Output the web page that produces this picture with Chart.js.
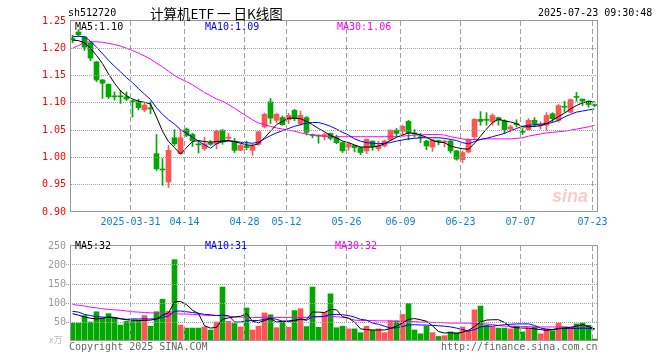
<!DOCTYPE html>
<html><head><meta charset="utf-8">
<script src="https://cdn.jsdelivr.net/npm/chart.js@4.4.1/dist/chart.umd.min.js"></script>
<style>
html,body{margin:0;padding:0;background:#fff;width:660px;height:360px;overflow:hidden;}
#wrap{position:relative;width:660px;height:360px;}
canvas{position:absolute;left:0;}
.t{position:absolute;font-family:"DejaVu Sans Mono",monospace;font-size:10px;line-height:12px;white-space:nowrap;}
</style></head><body>
<div id="wrap">
<canvas id="pc" width="660" height="235" style="top:0"></canvas>
<canvas id="vc" width="660" height="125" style="top:235px"></canvas>
<div class="t" style="left:68px;top:7px;color:#000;">sh512720</div>
<div class="t" style="left:150px;top:3px;font-family:'Noto Sans CJK SC',sans-serif;font-size:13.5px;line-height:20px;color:#000;">计算机ETF 一 日K线图</div>
<div class="t" style="left:538px;top:7px;color:#000;">2025-07-23 09:30:48</div>
<div class="t" style="left:75px;top:21px;color:#000;">MA5:1.10</div>
<div class="t" style="left:205px;top:21px;color:#0000ff;">MA10:1.09</div>
<div class="t" style="left:337px;top:21px;color:#ff00ff;">MA30:1.06</div>
<div class="t" style="left:75px;top:240px;color:#000;">MA5:32</div>
<div class="t" style="left:205px;top:240px;color:#0000ff;">MA10:31</div>
<div class="t" style="left:335px;top:240px;color:#ff00ff;">MA30:32</div>
<div class="t" style="left:49px;top:334px;color:#bbb;font-family:'Noto Sans CJK SC',sans-serif;font-size:9px;">x万</div>
<div class="t" style="left:69px;top:341px;color:#666;">Copyright 2025 SINA.COM</div>
<div class="t" style="left:441px;top:341px;color:#666;">http://finance.sina.com.cn</div>
<div class="t" style="left:552px;top:186px;color:rgba(225,110,110,0.35);font-family:'Liberation Sans',sans-serif;font-size:18px;line-height:20px;font-style:italic;font-weight:bold;">sina</div>
</div>
<script>
// ---- data ----
const tickIdx = [10,19,29,36,46,55,65,75,87];
const tickLabels = ['2025-03-31','04-14','04-28','05-12','05-26','06-09','06-23','07-07','07-23'];
const priceTicks = [0.90,0.95,1.00,1.05,1.10,1.15,1.20,1.25];
const volTicks = [0,50,100,150,200,250];

const open = [1.218,1.230,1.221,1.210,1.175,1.142,1.134,1.112,1.112,1.111,
1.103,1.102,1.087,1.090,1.007,0.978,0.955,1.036,1.007,1.052,
1.042,1.024,1.016,1.027,1.025,1.050,1.035,1.030,1.013,1.021,
1.013,1.024,1.056,1.102,1.068,1.073,1.069,1.086,1.062,1.073,
1.041,1.041,1.038,1.044,1.036,1.027,1.019,1.022,1.018,1.012,
1.030,1.016,1.021,1.032,1.050,1.048,1.066,1.044,1.037,1.030,
1.019,1.031,1.028,1.030,1.012,0.996,1.010,1.038,1.070,1.069,
1.065,1.073,1.067,1.052,1.061,1.047,1.051,1.068,1.058,1.059,
1.080,1.068,1.093,1.083,1.111,1.107,1.103,1.096];
const close = [1.216,1.225,1.202,1.182,1.142,1.136,1.111,1.111,1.111,1.107,
1.102,1.091,1.096,1.089,0.979,0.977,1.013,1.025,1.036,1.040,
1.031,1.023,1.025,1.024,1.048,1.028,1.037,1.013,1.022,1.018,
1.021,1.047,1.079,1.072,1.079,1.060,1.077,1.071,1.077,1.046,
1.040,1.039,1.042,1.035,1.027,1.012,1.024,1.018,1.009,1.033,
1.019,1.021,1.030,1.050,1.044,1.057,1.045,1.043,1.036,1.021,
1.032,1.029,1.030,1.012,0.997,1.009,1.033,1.070,1.066,1.068,
1.077,1.068,1.051,1.056,1.060,1.046,1.068,1.062,1.059,1.077,
1.071,1.095,1.092,1.106,1.110,1.103,1.097,1.095];
const high = [1.224,1.234,1.222,1.212,1.176,1.143,1.135,1.120,1.123,1.120,
1.105,1.107,1.100,1.102,1.042,0.998,1.022,1.051,1.050,1.054,
1.044,1.031,1.037,1.031,1.050,1.051,1.044,1.035,1.024,1.030,
1.024,1.048,1.081,1.108,1.081,1.076,1.081,1.088,1.085,1.075,
1.043,1.041,1.044,1.045,1.041,1.028,1.028,1.022,1.019,1.034,
1.030,1.030,1.032,1.051,1.053,1.059,1.068,1.051,1.044,1.032,
1.033,1.032,1.032,1.032,1.013,1.012,1.034,1.071,1.084,1.082,
1.080,1.074,1.069,1.059,1.069,1.053,1.071,1.073,1.065,1.082,
1.082,1.097,1.103,1.107,1.119,1.107,1.104,1.098];
const low = [1.210,1.222,1.196,1.177,1.139,1.108,1.108,1.105,1.099,1.104,
1.074,1.087,1.084,1.080,0.976,0.949,0.945,1.022,1.006,1.038,
1.020,1.008,1.013,1.022,1.016,1.024,1.032,1.009,1.012,1.014,
1.004,1.022,1.054,1.062,1.064,1.059,1.062,1.067,1.059,1.041,
1.036,1.026,1.032,1.032,1.025,1.009,1.013,1.010,1.005,1.007,
1.013,1.012,1.019,1.030,1.039,1.042,1.032,1.037,1.027,1.014,
1.011,1.023,1.019,1.008,0.995,0.990,1.008,1.032,1.059,1.059,
1.059,1.059,1.044,1.047,1.056,1.042,1.050,1.056,1.052,1.050,
1.065,1.065,1.083,1.082,1.103,1.095,1.092,1.093];
const ma5 = [1.215,1.214,1.210,1.200,1.187,1.172,1.153,1.136,1.122,1.113,
1.107,1.103,1.101,1.098,1.074,1.048,1.029,1.018,1.006,1.018,
1.029,1.031,1.029,1.028,1.029,1.030,1.031,1.029,1.026,1.023,
1.022,1.025,1.036,1.048,1.060,1.066,1.072,1.072,1.071,1.066,
1.060,1.053,1.047,1.040,1.036,1.030,1.027,1.023,1.019,1.019,
1.019,1.021,1.025,1.031,1.037,1.041,1.045,1.044,1.041,1.037,
1.031,1.028,1.027,1.021,1.018,1.016,1.015,1.026,1.039,1.052,
1.064,1.070,1.067,1.065,1.062,1.056,1.056,1.057,1.058,1.062,
1.068,1.075,1.081,1.089,1.095,1.100,1.102,1.102];
const ma10 = [1.221,1.222,1.221,1.213,1.202,1.190,1.178,1.167,1.157,1.146,
1.137,1.126,1.116,1.106,1.091,1.079,1.069,1.061,1.051,1.044,
1.037,1.030,1.023,1.017,1.025,1.029,1.030,1.029,1.028,1.027,
1.026,1.028,1.034,1.040,1.045,1.049,1.053,1.057,1.060,1.063,
1.064,1.064,1.061,1.057,1.052,1.046,1.041,1.034,1.030,1.027,
1.026,1.025,1.026,1.027,1.030,1.032,1.034,1.035,1.036,1.036,
1.036,1.036,1.035,1.033,1.031,1.027,1.025,1.029,1.033,1.035,
1.038,1.041,1.044,1.049,1.053,1.057,1.059,1.060,1.061,1.062,
1.064,1.068,1.074,1.079,1.083,1.085,1.087,1.089];
const ma30 = [1.200,1.205,1.211,1.212,1.212,1.211,1.209,1.207,1.204,1.200,
1.196,1.191,1.186,1.180,1.173,1.166,1.158,1.150,1.144,1.139,
1.133,1.126,1.119,1.113,1.107,1.103,1.097,1.090,1.083,1.076,
1.069,1.063,1.060,1.057,1.054,1.052,1.050,1.048,1.045,1.043,
1.041,1.040,1.039,1.038,1.038,1.038,1.038,1.038,1.038,1.038,
1.038,1.038,1.038,1.038,1.038,1.039,1.040,1.041,1.041,1.042,
1.042,1.042,1.041,1.038,1.036,1.034,1.032,1.033,1.033,1.034,
1.034,1.034,1.034,1.034,1.035,1.036,1.039,1.041,1.043,1.045,
1.046,1.047,1.048,1.050,1.052,1.054,1.056,1.059];
const vol = [47,47,67,50,77,60,72,60,42,52,
54,55,67,39,77,110,78,214,42,34,
34,34,37,29,50,142,52,46,37,87,
29,39,74,69,35,49,36,80,85,38,
142,36,75,124,35,39,32,32,22,39,
28,32,22,53,53,70,99,29,19,39,
22,12,14,24,22,37,29,82,92,42,
37,34,34,32,39,24,34,37,19,32,
27,47,37,33,45,47,41,5];
const vm5 = [72,68,63,60,58,60,63,62,59,56,
55,54,54,55,58,68,74,103,104,96,
81,72,40,34,36,57,61,63,65,72,
52,48,54,59,50,52,53,54,57,57,
76,76,75,83,82,64,60,50,32,30,
29,29,29,33,39,47,57,59,56,52,
40,25,21,22,20,23,28,38,50,55,
56,56,49,37,35,34,34,32,30,28,
30,33,34,36,39,43,38,32];
const vm10 = [78,76,70,67,64,63,62,61,58,57,
58,58,58,58,58,62,66,78,79,77,
75,73,70,69,67,68,67,50,50,53,
54,54,57,60,57,52,51,54,58,54,
64,64,65,70,70,69,67,63,57,55,
47,44,39,34,35,38,42,43,42,42,
41,40,39,37,34,30,26,30,37,39,
39,41,43,44,45,45,45,41,34,31,
30,32,33,33,33,34,33,31];
const vm30 = [96,94,92,89,87,85,83,82,81,79,
77,76,75,74,74,73,72,72,71,71,
70,69,68,67,67,66,65,64,63,62,
62,62,62,62,62,62,62,62,62,62,
63,64,64,65,64,62,60,55,54,54,
54,53,53,53,52,52,51,51,50,50,
49,49,48,47,47,47,47,46,45,45,
43,41,39,39,39,38,38,37,37,37,
37,37,37,36,35,35,34,32];

// ---- rendering ----
const UP = '#ff5555', DOWN = '#00a800';
const MONO = 'DejaVu Sans Mono';
const idx = open.map((_, i) => i);
const colors = idx.map(i => close[i] >= open[i] ? UP : DOWN);
const pts = arr => arr.map((v, i) => ({x: i, y: v}));

// grid painted as pixel dots/dashes at the scales' tick positions
function drawGrid(c, extendLeft) {
  const a = c.chartArea, ctx = c.ctx, xs = c.scales.x, ys = c.scales.y;
  const L = Math.round(a.left), R = Math.round(a.right), T = Math.round(a.top), B = Math.round(a.bottom);
  ctx.save();
  ctx.globalCompositeOperation = 'source-over';
  ctx.globalAlpha = 1;
  ctx.fillStyle = '#a0a0a0';
  xs.ticks.forEach(t => {
    const x = Math.floor(xs.getPixelForValue(t.value));
    for (let y = T; y < B; y += 8) ctx.fillRect(x, y, 1, Math.min(5, B - y));
  });
  ctx.fillStyle = '#a0a0a0';
  ys.ticks.forEach(t => {
    const y = Math.floor(ys.getPixelForValue(t.value));
    if (y <= T || y >= B - 1) return;
    for (let x = L - extendLeft; x < R; x += 2) ctx.fillRect(x, y, 1, 1);
  });
  ctx.restore();
}
function makeDecor(extendLeft) {
  return {
    id: 'decor',
    afterDraw(c) {
      drawGrid(c, extendLeft);
      const a = c.chartArea, ctx = c.ctx;
      ctx.save();
      ctx.strokeStyle = '#999';
      ctx.lineWidth = 1;
      ctx.setLineDash([]);
      ctx.strokeRect(Math.round(a.left) - 0.5, Math.round(a.top) - 0.5,
        Math.round(a.right - a.left), Math.round(a.bottom - a.top));
      ctx.restore();
    }
  };
}

function xAxis(showLabels, h) {
  return {
    type: 'linear', min: -0.25, max: 87.583, bounds: 'data', offset: false,
    afterBuildTicks: s => { s.ticks = tickIdx.map(v => ({value: v - 0.333})); },
    ticks: {display: showLabels, autoSkip: false, maxRotation: 0, padding: 4,
      color: '#0b7fd2', font: {family: MONO, size: 10},
      callback: (v, i) => tickLabels[i]},
    grid: {display: false, drawTicks: false, offset: false},
    border: {display: false},
    afterFit: s => { s.height = h; }
  };
}
function yAxis(min, max, tickArr, color, fmt) {
  return {
    type: 'linear', min, max, bounds: 'data',
    afterBuildTicks: s => { s.ticks = tickArr.map(v => ({value: v})); },
    ticks: {color, padding: 5, autoSkip: false, font: {family: MONO, size: 10}, callback: fmt},
    grid: {display: false, drawTicks: false},
    border: {display: false},
    afterFit: s => { s.width = 71; }
  };
}
const lineDs = (data, color) => ({type: 'line', data: pts(data), borderColor: color,
  backgroundColor: 'rgba(0,0,0,0)', borderWidth: 1, pointRadius: 0, tension: 0, fill: false});

const common = {
  responsive: false, animation: false, devicePixelRatio: 1,
  plugins: {legend: {display: false}, tooltip: {enabled: false}},
};

new Chart(document.getElementById('pc'), {
  type: 'bar',
  data: {datasets: [
    lineDs(ma5, '#000000'),
    lineDs(ma10, '#0000ff'),
    lineDs(ma30, '#ff00ff'),
    {type: 'bar', data: idx.map(i => ({x: i, y: [open[i], close[i]]})),
      backgroundColor: colors, barThickness: 5, grouped: false, minBarLength: 1, borderWidth: 0},
    {type: 'bar', data: idx.map(i => ({x: i, y: [low[i], high[i]]})),
      backgroundColor: colors, barThickness: 1, grouped: false, borderWidth: 0}
  ]},
  options: Object.assign({}, common, {
    layout: {padding: {left: 0, right: 62, top: 21, bottom: 0}},
    scales: {
      x: xAxis(true, 23),
      y: yAxis(0.90, 1.25, priceTicks, '#ff0000', v => Number(v).toFixed(2))
    }
  }),
  plugins: [makeDecor(0)]
});

new Chart(document.getElementById('vc'), {
  type: 'bar',
  data: {datasets: [
    lineDs(vm5, '#000000'),
    lineDs(vm10, '#0000ff'),
    lineDs(vm30, '#ff00ff'),
    {type: 'bar', data: idx.map(i => ({x: i, y: vol[i]})),
      backgroundColor: colors, barThickness: 5, grouped: false, borderWidth: 0}
  ]},
  options: Object.assign({}, common, {
    layout: {padding: {left: 0, right: 62, top: 6, bottom: 0}},
    scales: {
      x: xAxis(false, 19),
      y: yAxis(0, 250, volTicks, '#999999', v => v === 0 ? '' : String(v))
    }
  }),
  plugins: [makeDecor(5)]
});
</script>
</body></html>
